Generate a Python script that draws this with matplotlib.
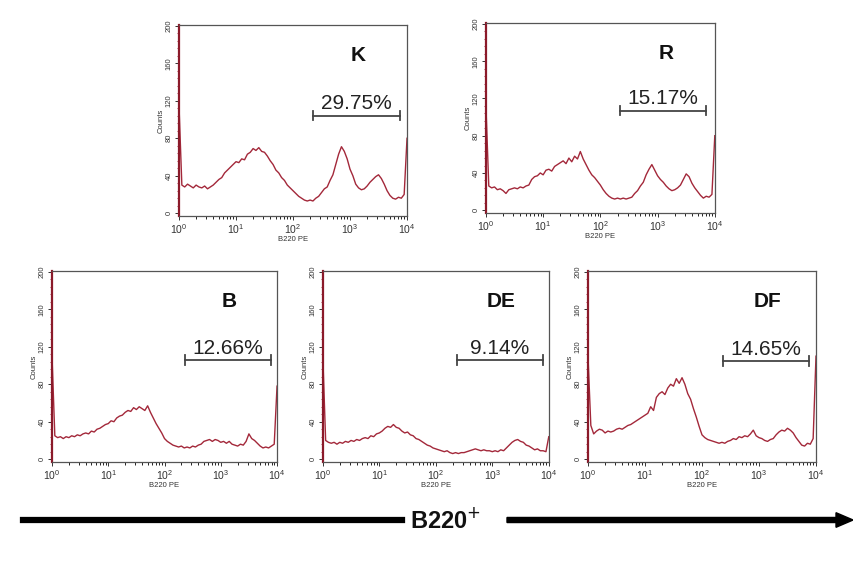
import numpy as np
import matplotlib.pyplot as plt
from matplotlib.ticker import LogLocator, NullFormatter, MultipleLocator

plt.rcParams['font.family'] = ['Liberation Sans', 'DejaVu Sans']

# channel positions (log10 of B220 PE), one value every 0.05 decade
channels = [round(i * 0.05, 2) for i in range(81)]

counts_K = [115, 30, 28, 31, 29, 27, 30, 28, 27, 29, 26, 28, 30, 33, 36, 38, 43, 46, 49, 52,
            55, 54, 58, 57, 63, 65, 69, 67, 70, 66, 65, 61, 56, 52, 46, 43, 38, 35, 30, 27,
            24, 21, 18, 16, 14, 13, 14, 13, 16, 18, 22, 26, 28, 35, 41, 52, 63, 71, 66, 58,
            47, 40, 31, 27, 25, 26, 29, 33, 36, 39, 41, 37, 31, 24, 19, 16, 15, 17, 16, 20, 80]
counts_R = [112, 26, 24, 25, 22, 23, 21, 18, 22, 23, 24, 23, 25, 24, 26, 27, 33, 36, 37, 40,
            38, 43, 44, 42, 47, 49, 51, 53, 50, 56, 52, 58, 55, 63, 55, 49, 43, 38, 35, 31,
            27, 22, 18, 15, 13, 12, 13, 12, 13, 12, 13, 14, 18, 21, 26, 30, 38, 44, 49, 43,
            37, 33, 30, 26, 23, 21, 22, 24, 27, 33, 39, 36, 29, 24, 20, 16, 13, 15, 14, 17, 80]
counts_B = [110, 25, 23, 24, 22, 24, 23, 25, 24, 26, 25, 27, 28, 27, 30, 29, 32, 33, 35, 37,
            38, 41, 40, 44, 46, 47, 50, 52, 51, 55, 53, 56, 54, 52, 57, 50, 44, 38, 33, 28,
            22, 19, 17, 15, 14, 13, 14, 12, 13, 12, 14, 13, 15, 16, 19, 20, 21, 19, 21, 20,
            18, 19, 17, 19, 16, 15, 14, 16, 15, 19, 27, 22, 20, 17, 14, 12, 13, 12, 14, 16, 78]
counts_DE = [110, 20, 18, 17, 18, 16, 18, 17, 19, 18, 20, 19, 21, 20, 22, 23, 22, 25, 24, 27,
             28, 30, 33, 35, 34, 37, 34, 33, 30, 28, 29, 26, 25, 22, 21, 19, 17, 15, 14, 12,
             11, 10, 9, 8, 9, 7, 6, 7, 6, 7, 7, 8, 9, 10, 11, 10, 9, 10, 9, 9,
             8, 9, 8, 10, 9, 12, 15, 18, 20, 21, 19, 18, 15, 14, 12, 10, 11, 9, 9, 8, 24]
counts_DF = [110, 36, 27, 30, 32, 31, 28, 30, 29, 30, 32, 33, 32, 34, 36, 37, 39, 41, 43, 45,
             47, 49, 56, 52, 66, 70, 72, 69, 76, 80, 78, 86, 81, 87, 80, 70, 64, 54, 45, 35,
             26, 23, 21, 20, 19, 18, 17, 18, 17, 19, 20, 22, 21, 24, 23, 25, 24, 27, 31, 25,
             23, 22, 20, 19, 21, 22, 26, 29, 31, 30, 33, 31, 28, 23, 19, 15, 14, 17, 16, 22, 110]

samples = ['K', 'R', 'B', 'DE', 'DF']
percents = ['29.75%', '15.17%', '12.66%', '9.14%', '14.65%']
all_counts = [counts_K, counts_R, counts_B, counts_DE, counts_DF]
gate_lo = [2.35, 2.35, 2.37, 2.37, 2.36]
gate_hi = [3.87, 3.85, 3.89, 3.89, 3.87]
gate_y = [104, 107, 106, 106, 105]

# axes rectangles in figure fractions
boxes = [
    [0.2096, 0.615, 0.267, 0.3405],
    [0.569, 0.6203, 0.268, 0.3387],
    [0.0609, 0.1765, 0.2635, 0.3405],
    [0.378, 0.1765, 0.2646, 0.3405],
    [0.6885, 0.1765, 0.267, 0.3405],
]

line_col = '#a3283a'
fig = plt.figure(figsize=(8.54, 5.61), dpi=100)

for name, pct, counts, lo, hi, gy, box in zip(samples, percents, all_counts,
                                              gate_lo, gate_hi, gate_y, boxes):
    ax = fig.add_axes(box)
    xs = 10 ** np.array(channels)
    ax.plot(xs, counts, color=line_col, lw=1.0)
    ax.set_xscale('log')
    ax.set_xlim(1, 1e4)
    ax.set_ylim(-3, 201)
    ax.set_yticks([0, 40, 80, 120, 160, 200])
    ax.yaxis.set_minor_locator(MultipleLocator(8))
    ax.xaxis.set_major_locator(LogLocator(base=10, numticks=10))
    ax.xaxis.set_minor_locator(LogLocator(base=10, subs=np.arange(2, 10), numticks=10))
    ax.xaxis.set_minor_formatter(NullFormatter())
    ax.tick_params(axis='x', labelsize=7.5, length=3, width=0.7, pad=1.5, colors='#333333')
    ax.tick_params(axis='x', which='minor', length=2, width=0.6)
    ax.tick_params(axis='y', labelsize=5.5, length=3, width=0.7, pad=1.5,
                   labelrotation=90, colors='#333333')
    ax.tick_params(axis='y', which='minor', length=1.8, width=0.6, color=line_col)
    for lab in ax.get_yticklabels():
        lab.set_va('center')
    ax.set_ylabel('Counts', fontsize=5.5, labelpad=1, color='#333333')
    ax.set_xlabel('B220 PE', fontsize=5.5, labelpad=0, color='#333333')
    for s in ['top', 'right', 'bottom']:
        ax.spines[s].set_color('#555555')
        ax.spines[s].set_linewidth(0.9)
    ax.spines['left'].set_color('#8b1a2a')
    ax.spines['left'].set_linewidth(1.6)

    # gate bar with end caps
    ax.plot([10 ** lo, 10 ** hi], [gy, gy], color='#444444', lw=1.3)
    for gx in (lo, hi):
        ax.plot([10 ** gx, 10 ** gx], [gy - 5, gy + 5], color='#444444', lw=1.3)
    mid = (lo + hi) / 2
    ax.text(10 ** mid, gy + 2.5, pct, ha='center', va='bottom', fontsize=15, color='#222222')
    ax.text(10 ** 3.15, 168, name, ha='center', va='center', fontsize=15,
            fontweight='bold', color='#111111')

# bottom arrow with label
fig.add_artist(plt.Line2D([23 / 854, 402 / 854], [1 - 520 / 561, 1 - 520 / 561],
                          color='black', lw=4.5, transform=fig.transFigure))
fig.patches.append(plt.matplotlib.patches.FancyArrow(
    507 / 854, 1 - 520 / 561, (836 - 507) / 854, 0, width=0.009, head_width=0.026,
    head_length=0.02, length_includes_head=False, color='black', transform=fig.transFigure))
fig.text(445 / 854, 1 - 520 / 561, 'B220$^{+}$', ha='center', va='center', fontsize=17,
         fontweight='bold', color='#111111')

fig.savefig('out.png', dpi=100)
